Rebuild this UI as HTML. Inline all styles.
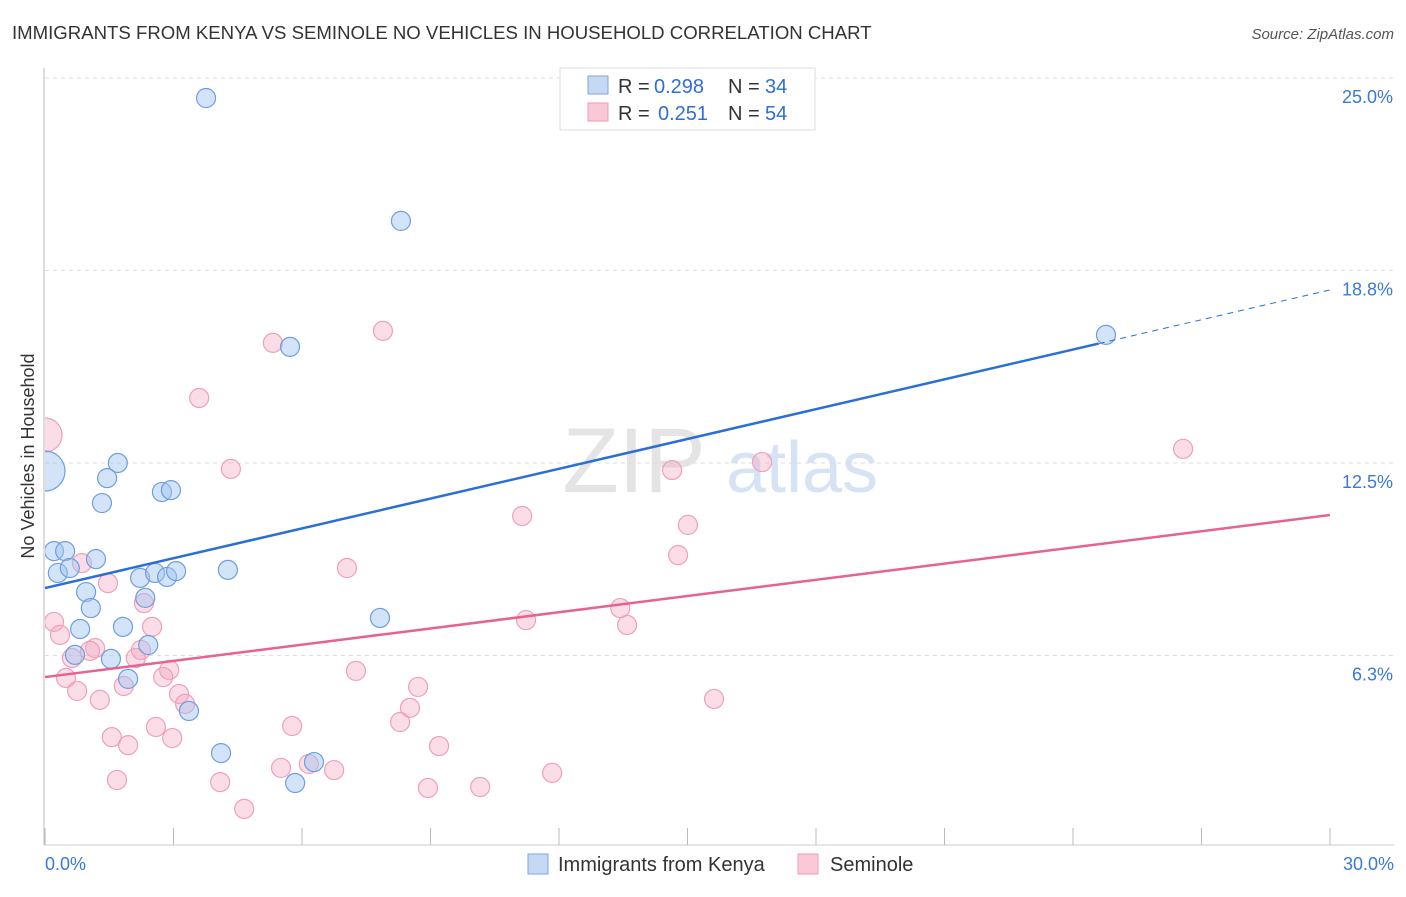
<!DOCTYPE html>
<html><head><meta charset="utf-8"><style>
body{margin:0;background:#fff;font-family:"Liberation Sans",sans-serif}
svg text{font-family:"Liberation Sans",sans-serif}
</style></head><body>
<svg id="c" width="1406" height="892" xmlns="http://www.w3.org/2000/svg">
<defs><clipPath id="pc"><rect x="45" y="60" width="1360" height="785"/></clipPath></defs>
<text x="12" y="39" font-size="18.6" fill="#333">IMMIGRANTS FROM KENYA VS SEMINOLE NO VEHICLES IN HOUSEHOLD CORRELATION CHART</text>
<text x="1394" y="39" font-size="15" fill="#555" font-style="italic" text-anchor="end">Source: ZipAtlas.com</text>
<text x="634" y="492" font-size="92" fill="#e4e4e4" font-family="Liberation Serif" text-anchor="middle">ZIP</text>
<text x="802" y="492" font-size="72" fill="#d6e3f5" text-anchor="middle">atlas</text>
<text transform="translate(34,456) rotate(-90)" font-size="18" fill="#333" text-anchor="middle">No Vehicles in Household</text>
<g id="grid"></g><g id="pts" clip-path="url(#pc)"></g><g id="lines"></g>
<g>
<rect x="560" y="68" width="255" height="62" fill="#fff" stroke="#ddd"/>
<rect x="588" y="76" width="20" height="18" fill="#c5d9f4" stroke="#7aa6e0"/>
<rect x="588" y="103" width="20" height="18" fill="#fac9d8" stroke="#ec9ab4"/>
<text x="618" y="93" font-size="20" fill="#333">R =</text>
<text x="654" y="93" font-size="20" fill="#2f6fd4">0.298</text>
<text x="728" y="93" font-size="20" fill="#333">N =</text>
<text x="765" y="93" font-size="20" fill="#2f6fd4">34</text>
<text x="618" y="120" font-size="20" fill="#333">R =</text>
<text x="658" y="120" font-size="20" fill="#2f6fd4">0.251</text>
<text x="728" y="120" font-size="20" fill="#333">N =</text>
<text x="765" y="120" font-size="20" fill="#2f6fd4">54</text>
</g>
<g>
<rect x="528" y="854" width="20" height="20" fill="#c5d9f4" stroke="#7aa6e0"/>
<text x="558" y="871" font-size="20" fill="#333">Immigrants from Kenya</text>
<rect x="798" y="854" width="20" height="20" fill="#fac9d8" stroke="#ec9ab4"/>
<text x="830" y="871" font-size="20" fill="#333">Seminole</text>
</g>
</svg>
<script>
const xTickLabels=["0.0%","30.0%"];
const yTicks=[6.25,12.5,18.75,25];
const yTickLabels=["6.3%","12.5%","18.8%","25.0%"];
const kenyaX=[3.76,8.31,5.72,24.77,0,1.70,1.45,1.33,2.73,2.94,0.21,0.47,0.30,0.58,1.19,0.96,1.07,2.22,2.57,2.85,3.06,4.27,2.34,7.82,0.82,1.82,2.41,0.70,1.54,1.94,3.36,4.11,6.28,5.84];
const kenyaY=[24.35,20.36,16.27,16.66,12.24,12.50,12.01,11.20,11.56,11.62,9.64,9.64,8.93,9.09,9.38,8.31,7.79,8.77,8.93,8.80,8.99,9.03,8.12,7.47,7.11,7.18,6.59,6.27,6.14,5.49,4.45,3.08,2.79,2.11];
const semX=[0,7.89,5.32,3.60,4.34,14.64,16.74,26.57,11.14,15.01,14.78,7.05,0.86,1.47,2.31,2.50,0.21,0.35,1.17,1.05,0.63,2.12,2.24,2.90,2.76,0.49,1.84,0.75,3.13,3.27,1.28,7.26,8.71,8.52,8.29,5.77,2.59,1.56,2.97,1.94,9.20,15.62,13.43,13.59,11.23,5.51,6.16,6.75,1.68,4.09,11.84,10.16,8.94,4.65];
const semY=[13.41,16.79,16.40,14.61,12.31,12.27,12.53,12.96,10.78,10.49,9.51,9.09,9.25,8.60,7.95,7.18,7.34,6.92,6.49,6.40,6.17,6.17,6.43,5.78,5.55,5.52,5.26,5.10,5.00,4.68,4.81,5.75,5.23,4.55,4.09,3.96,3.93,3.60,3.57,3.34,3.31,4.84,7.79,7.24,7.40,2.60,2.73,2.53,2.21,2.14,2.44,1.98,1.95,1.27];
const kenyaTrend=[8.44,18.12];
const semTrend=[5.55,10.81];
const NS="http://www.w3.org/2000/svg";
const X=v=>45+v/30*1285, Y=v=>848-v/25*770;
function mk(t,a,p){const e=document.createElementNS(NS,t);for(const k in a)e.setAttribute(k,a[k]);p.appendChild(e);return e;}
const g=document.getElementById('grid');
yTicks.forEach((t,i)=>{
 const l=mk('line',{x1:45,x2:1394,y1:Y(t),y2:Y(t),stroke:'#ddd','stroke-dasharray':'4,4'},g);
 
 
 const tx=mk('text',{x:1393,y:Y(t)+25,'font-size':18,fill:'#3b78d8','text-anchor':'end'},g);
 tx.textContent=yTickLabels[i];
 
 
});
const ax=mk('line',{x1:44,x2:44,y1:68,y2:845,stroke:'#bbb'},g);


const bx=mk('line',{x1:44,x2:1394,y1:845,y2:845,stroke:'#ccc'},g);


for(let i=0;i<=10;i++){const t=mk('line',{x1:X(i*3),x2:X(i*3),y1:828,y2:845,stroke:'#bbb'},g);
 
 }
[[0,'start',45],[30,'end',1394]].forEach((d,i)=>{const t=mk('text',{x:d[2],y:870,'font-size':18,fill:'#3b78d8','text-anchor':d[1]},g);t.textContent=xTickLabels[i];
 
 });
const p=document.getElementById('pts');
function dots(xs,ys,fill,stroke,name,big){xs.forEach((x,i)=>{const c=mk('circle',{cx:X(x),cy:Y(ys[i]),r:(x===0?big:9.5),fill:fill,stroke:stroke,'stroke-width':1.2},p);
 
 });}
dots(semX,semY,'rgba(246,170,195,0.4)','#eea0b9','seminole-point',17);
dots(kenyaX,kenyaY,'rgba(160,196,240,0.45)','#6d9ee0','kenya-point',20);
const L=document.getElementById('lines');
const kx=24.6;
const k1=mk('line',{x1:X(0),y1:Y(kenyaTrend[0]),x2:X(kx),y2:Y(kenyaTrend[0]+(kenyaTrend[1]-kenyaTrend[0])*kx/30),stroke:'#2a6fd6','stroke-width':2.5},L);


const k2=mk('line',{x1:X(kx),y1:Y(kenyaTrend[0]+(kenyaTrend[1]-kenyaTrend[0])*kx/30),x2:X(30),y2:Y(kenyaTrend[1]),stroke:'#2a6fd6','stroke-width':1,'stroke-dasharray':'6,5'},L);


const s1=mk('line',{x1:X(0),y1:Y(semTrend[0]),x2:X(30),y2:Y(semTrend[1]),stroke:'#e5638e','stroke-width':2.5},L);


</script>
</body></html>
